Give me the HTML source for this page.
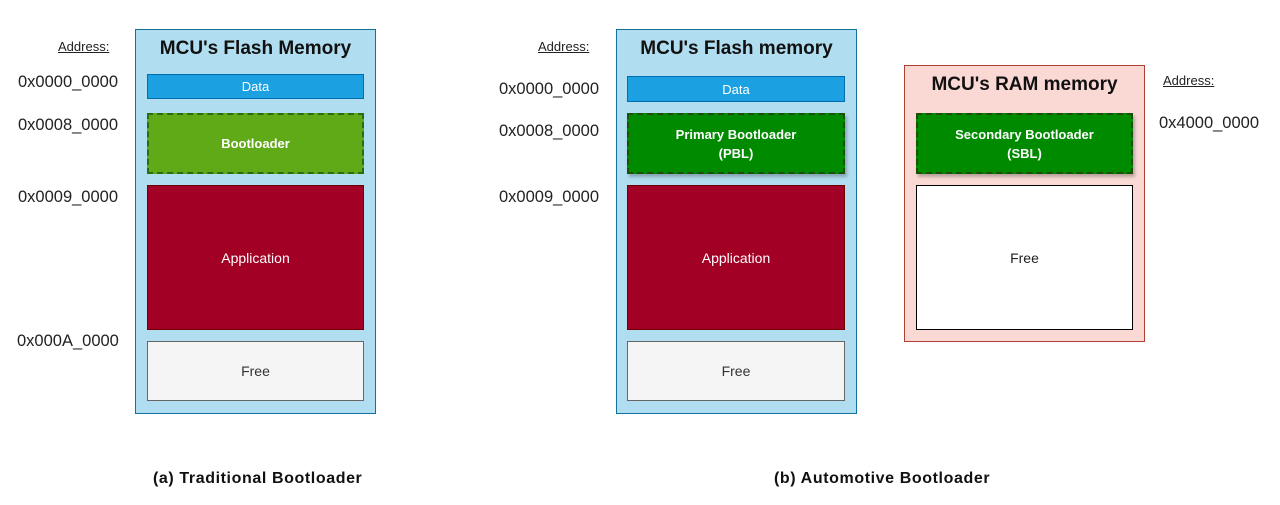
<!DOCTYPE html>
<html><head><style>
body{margin:0;width:1280px;height:505px;background:#fff;position:relative;font-family:"Liberation Sans",Arial,sans-serif;overflow:hidden}
div{position:absolute;box-sizing:border-box}
.c{display:flex;align-items:center;justify-content:center;text-align:center}
.cont{background:#b1ddf0;border:1px solid #10739e}
.ttl{font-weight:bold;font-size:19px;color:#111;width:100%;text-align:center}
.data{background:#1ba1e2;border:1px solid #006eaf;color:#fff;font-size:13px}
.bl{border:2px dashed #1f4d0a;color:#fff;font-weight:bold;font-size:13px;line-height:19px}
.app{background:#a20025;border:1px solid #6f0000;color:#fff;font-size:14px}
.free{background:#f5f5f5;border:1px solid #666;color:#333;font-size:14px}
.addr{font-size:16.5px;color:#222}
.ah{font-size:13px;text-decoration:underline;color:#222}
.cap{font-weight:bold;font-size:16px;letter-spacing:0.6px;color:#111}
</style></head><body>
<!-- left -->
<div class="ah" style="left:58px;top:39px">Address:</div>
<div class="addr" style="left:18px;top:73px">0x0000_0000</div>
<div class="addr" style="left:18px;top:116px">0x0008_0000</div>
<div class="addr" style="left:18px;top:188px">0x0009_0000</div>
<div class="addr" style="left:17px;top:332px">0x000A_0000</div>
<div class="cont" style="left:135px;top:29px;width:241px;height:385px"></div>
<div class="ttl" style="left:135px;top:38px;width:241px">MCU's Flash Memory</div>
<div class="c data" style="left:147px;top:74px;width:217px;height:25px">Data</div>
<div class="c bl" style="left:147px;top:113px;width:217px;height:61px;background:#60a917;border-color:#2d6a10">Bootloader</div>
<div class="c app" style="left:147px;top:185px;width:217px;height:145px">Application</div>
<div class="c free" style="left:147px;top:341px;width:217px;height:60px">Free</div>
<div class="cap" style="left:153px;top:470px">(a) Traditional Bootloader</div>
<!-- right flash -->
<div class="ah" style="left:538px;top:39px">Address:</div>
<div class="addr" style="left:499px;top:80px">0x0000_0000</div>
<div class="addr" style="left:499px;top:122px">0x0008_0000</div>
<div class="addr" style="left:499px;top:188px">0x0009_0000</div>
<div class="cont" style="left:616px;top:29px;width:241px;height:385px"></div>
<div class="ttl" style="left:616px;top:38px;width:241px">MCU's Flash memory</div>
<div class="c data" style="left:627px;top:76px;width:218px;height:26px">Data</div>
<div class="c bl" style="left:627px;top:113px;width:218px;height:61px;background:#008a00;box-shadow:2px 3px 3px rgba(0,0,0,.25)">Primary Bootloader<br>(PBL)</div>
<div class="c app" style="left:627px;top:185px;width:218px;height:145px">Application</div>
<div class="c free" style="left:627px;top:341px;width:218px;height:60px">Free</div>
<!-- RAM -->
<div style="left:904px;top:65px;width:241px;height:277px;background:#fad9d5;border:1px solid #ae4132"></div>
<div class="ttl" style="left:904px;top:74px;width:241px">MCU's RAM memory</div>
<div class="c bl" style="left:916px;top:113px;width:217px;height:61px;background:#008a00;box-shadow:2px 3px 3px rgba(0,0,0,.25)">Secondary Bootloader<br>(SBL)</div>
<div class="c" style="left:916px;top:185px;width:217px;height:145px;background:#fff;border:1px solid #000;font-size:14px;color:#222">Free</div>
<div class="ah" style="left:1163px;top:73px">Address:</div>
<div class="addr" style="left:1159px;top:114px">0x4000_0000</div>
<div class="cap" style="left:774px;top:470px">(b) Automotive Bootloader</div>
</body></html>
